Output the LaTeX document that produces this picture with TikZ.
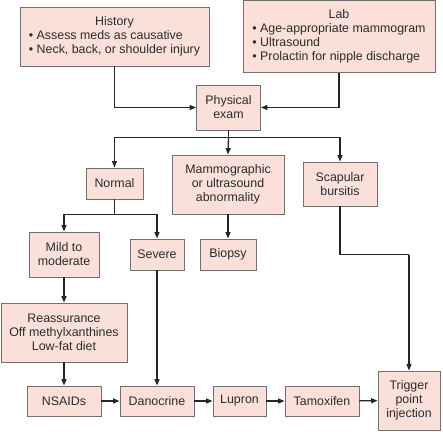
\documentclass[tikz,border=0pt]{standalone}
\usepackage{fontspec}
\setmainfont{Liberation Sans}
\usepackage{xcolor}
\usetikzlibrary{arrows.meta,positioning,calc}
\definecolor{boxfill}{HTML}{FBE0D9}
\definecolor{boxline}{HTML}{707070}
\definecolor{txt}{HTML}{2B2B2B}
\tikzset{
  box/.style={draw=boxline,fill=boxfill,line width=0.9pt,align=center,
              inner sep=2pt,text=txt,font=\fontsize{12.4}{14}\selectfont},
  ar/.style={-{Triangle[length=6.5pt,width=5pt]},line width=1.3pt,draw=black!85},
  ln/.style={line width=1.3pt,draw=black!85}
}

\begin{document}
\begin{tikzpicture}[x=1pt,y=-1pt]
  \useasboundingbox (0,0) rectangle (443,431);
  % top row
  \node[box,minimum width=189pt,minimum height=59pt] (hist) at (114.5,36.5)
    {\begin{tabular}{@{}l@{}}\multicolumn{1}{c}{History}\\
     \textbullet\ Assess meds as causative\\
     \textbullet\ Neck, back, or shoulder injury\end{tabular}};
  \node[box,minimum width=192pt,minimum height=72pt] (lab) at (339,36.5)
    {\begin{tabular}{@{}l@{}}\multicolumn{1}{c}{Lab}\\
     \textbullet\ Age-appropriate mammogram\\
     \textbullet\ Ultrasound\\
     \textbullet\ Prolactin for nipple discharge\end{tabular}};
  \node[box,minimum width=64pt,minimum height=45pt] (phys) at (228.5,107.5) {Physical\\exam};
  % findings
  \node[box,minimum width=57pt,minimum height=31pt] (normal) at (114.5,183.5) {Normal};
  \node[box,minimum width=112pt,minimum height=59pt] (mammo) at (228,184.5)
    {Mammographic\\or ultrasound\\abnormality};
  \node[box,minimum width=74pt,minimum height=44pt] (scap) at (340,184) {Scapular\\bursitis};
  \node[box,minimum width=70pt,minimum height=45pt] (mild) at (64,254.5) {Mild to\\moderate};
  \node[box,minimum width=54pt,minimum height=31pt] (severe) at (157,254.5) {Severe};
  \node[box,minimum width=56pt,minimum height=31pt] (biopsy) at (228,254.5) {Biopsy};
  \node[box,minimum width=126pt,minimum height=59pt] (reass) at (64,332.5)
    {Reassurance\\Off methylxanthines\\Low-fat diet};
  % treatment row
  \node[box,minimum width=74pt,minimum height=30pt] (nsaid) at (64,401) {NSAIDs};
  \node[box,minimum width=74pt,minimum height=30pt] (dano) at (157,401) {Danocrine};
  \node[box,minimum width=53pt,minimum height=30pt] (lupron) at (239.5,401) {Lupron};
  \node[box,minimum width=74pt,minimum height=30pt] (tamox) at (322,401) {Tamoxifen};
  \node[box,minimum width=62pt,minimum height=59pt] (trig) at (409,400.5) {Trigger\\point\\injection};
  % connectors
  \draw[ar] (hist.south) |- (phys.west);
  \draw[ar] (lab.south) |- (phys.east);
  \draw[ln] (phys.south) -- ++(0,7) coordinate (sp1);
  \draw[ar] (sp1) -| (normal.north);
  \draw[ar] (sp1) -| (scap.north);
  \draw[ar] (sp1) -- (mammo.north);
  \draw[ln] (normal.south) -- ++(0,15) coordinate (sp2);
  \draw[ar] (sp2) -| (mild.north);
  \draw[ar] (sp2) -| (severe.north);
  \draw[ar] (mammo.south) -- (biopsy.north);
  \draw[ar] (mild.south) -- (reass.north);
  \draw[ar] (reass.south) -- (nsaid.north);
  \draw[ar] (severe.south) -- (dano.north);
  \draw[ln] (scap.south) |- ($(trig.north)+(0,-116)$) coordinate (sp3);
  \draw[ar] (sp3) -- (trig.north);
  \draw[ar] (nsaid) -- (dano);
  \draw[ar] (dano) -- (lupron);
  \draw[ar] (lupron) -- (tamox);
  \draw[ar] (tamox) -- (trig);
\end{tikzpicture}
\end{document}
